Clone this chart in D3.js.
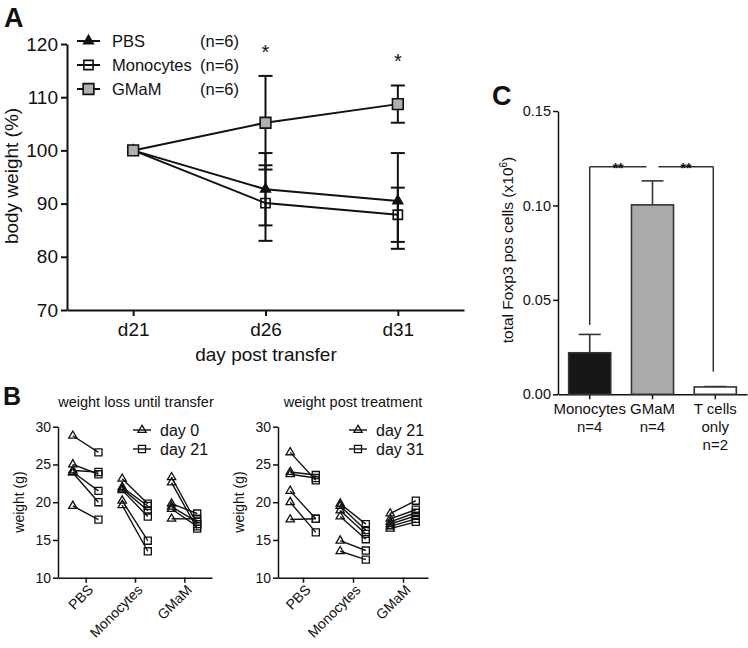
<!DOCTYPE html>
<html><head><meta charset="utf-8">
<script src="https://cdn.jsdelivr.net/npm/d3@7"></script>
<style>
body{margin:0;background:#fff;}
svg text{font-family:"Liberation Sans",Arial,Helvetica,sans-serif;fill:#111;}
</style></head><body>
<svg id="c" width="748" height="648"></svg>
<script>
// ---------- Panel A data ----------
const daysA = ["d21", "d26", "d31"];
const ticksA = [70, 80, 90, 100, 110, 120];
const seriesA = ["PBS", "Monocytes", "GMaM"];
const nA = ["(n=6)", "(n=6)", "(n=6)"];
const pbsMean = [100, 92.7, 90.5];
const pbsSD = [0, 6.8, 9.0];
const monoMean = [100, 90.1, 87.9];
const monoSD = [0, 7.1, 5.1];
const gmamMean = [100, 105.2, 108.7];
const gmamSD = [0, 8.8, 3.5];
const sigDaysA = ["d26", "d31"];

// ---------- Panel B data ----------
const groupsB = ["PBS", "Monocytes", "GMaM"];
const ticksB = [10, 15, 20, 25, 30];
const pbsDay0 = [28.8, 25.0, 24.2, 24.0, 23.9, 19.5];
const pbsDay21 = [26.6, 23.7, 24.0, 21.5, 20.0, 17.7];
const pbsDay31 = [22.9, 23.2, 23.6, 17.8, 16.0, 17.8];
const monoDay0 = [23.1, 22.0, 21.8, 21.6, 20.2, 19.6];
const monoDay21 = [19.8, 19.5, 18.9, 18.1, 14.9, 13.5];
const monoDay31 = [17.1, 16.3, 15.8, 15.1, 13.6, 12.4];
const gmamDay0 = [23.3, 22.6, 19.8, 19.4, 19.1, 17.8];
const gmamDay21 = [17.1, 16.5, 18.5, 17.4, 16.8, 17.8];
const gmamDay31 = [18.2, 17.4, 20.2, 18.6, 17.8, 19.0];

// ---------- Panel C data ----------
const catsC = ["Monocytes", "GMaM", "T cells only"];
const catLabelsC = [["Monocytes", "n=4"], ["GMaM", "n=4"], ["T cells", "only", "n=2"]];
const meanC = [0.022, 0.1003, 0.0039];
const semC = [0.0097, 0.0127, 0.0002];
const ticksC = [0, 0.05, 0.10, 0.15];
const colorsC = ["#161616", "#ababab", "#ffffff"];
const sigPairsC = [[0, 1, "**"], [1, 2, "**"]];
const bracketTopC = 0.1205;
const bracketLowC = [0.0367, 0.012];

const svg = d3.select("#c");
const INK = "#111";

function styleAxis(g, fs, sw) {
  g.attr("font-size", null).attr("font-family", null);
  g.selectAll("text").style("font-size", fs + "px").attr("fill", INK);
  g.selectAll("path,line").attr("stroke", INK).attr("stroke-width", sw);
}

// ================= Panel A =================
const xA = d3.scalePoint().domain(daysA).range([67, 464]).padding(0.5);
const yA = d3.scaleLinear().domain([70, 120]).range([310, 44]);
const gA = svg.append("g");

gA.append("text").attr("x", 4).attr("y", 27).text("A")
  .style("font-size", "27px").style("font-weight", "bold");

const axYA = gA.append("g").attr("transform", "translate(67,0)")
  .call(d3.axisLeft(yA).tickValues(ticksA).tickSize(6).tickPadding(3).tickSizeOuter(0));
styleAxis(axYA, 19, 2);
const axXA = gA.append("g").attr("transform", "translate(0,310)")
  .call(d3.axisBottom(xA).tickSize(6).tickPadding(7).tickSizeOuter(0));
styleAxis(axXA, 19, 2);

gA.append("text").attr("transform", "translate(17.5,176) rotate(-90)")
  .attr("text-anchor", "middle").style("font-size", "19px").text("body weight (%)");
gA.append("text").attr("x", 266).attr("y", 361)
  .attr("text-anchor", "middle").style("font-size", "19px").text("day post transfer");

const seriesData = [
  { name: "PBS", mean: pbsMean, sd: pbsSD, shape: "tri", fill: INK, size: 40 },
  { name: "Monocytes", mean: monoMean, sd: monoSD, shape: "sq", fill: "none", size: 85 },
  { name: "GMaM", mean: gmamMean, sd: gmamSD, shape: "sq", fill: "#b0b0b0", size: 115 }
];

// error bars
seriesData.forEach(s => {
  daysA.forEach((d, i) => {
    if (s.sd[i] <= 0) return;
    const x = xA(d), y1 = yA(s.mean[i] + s.sd[i]), y2 = yA(s.mean[i] - s.sd[i]);
    gA.append("line").attr("x1", x).attr("x2", x).attr("y1", y1).attr("y2", y2)
      .attr("stroke", INK).attr("stroke-width", 2);
    [y1, y2].forEach(y => gA.append("line").attr("x1", x - 7).attr("x2", x + 7)
      .attr("y1", y).attr("y2", y).attr("stroke", INK).attr("stroke-width", 2));
  });
});
// lines
const lineA = d3.line().x((d, i) => xA(daysA[i])).y(d => yA(d));
seriesData.forEach(s => {
  gA.append("path").attr("d", lineA(s.mean)).attr("fill", "none")
    .attr("stroke", INK).attr("stroke-width", 2);
});
function sym(shape, size) {
  return d3.symbol().type(shape === "tri" ? d3.symbolTriangle : d3.symbolSquare).size(size)();
}
// markers
seriesData.forEach(s => {
  daysA.forEach((d, i) => {
    gA.append("path").attr("d", sym(s.shape, s.size))
      .attr("transform", `translate(${xA(d)},${yA(s.mean[i])})`)
      .attr("fill", s.fill).attr("stroke", INK).attr("stroke-width", 1.6);
  });
});
// significance
sigDaysA.forEach(d => {
  const i = daysA.indexOf(d);
  const top = d3.min(seriesData, s => yA(s.mean[i] + s.sd[i]));
  gA.append("text").attr("x", xA(d)).attr("y", top - 17).attr("text-anchor", "middle")
    .style("font-size", "20px").text("*");
});
// legend
seriesData.forEach((s, k) => {
  const y = 41 + k * 24;
  gA.append("line").attr("x1", 77).attr("x2", 100).attr("y1", y).attr("y2", y)
    .attr("stroke", INK).attr("stroke-width", 2);
  gA.append("path").attr("d", sym(s.shape, s.size)).attr("transform", `translate(88.5,${y})`)
    .attr("fill", s.fill).attr("stroke", INK).attr("stroke-width", 1.6);
  gA.append("text").attr("x", 112).attr("y", y + 6).style("font-size", "16.5px").text(seriesA[k]);
  gA.append("text").attr("x", 200).attr("y", y + 6).style("font-size", "16.5px").text(nA[k]);
});

// ================= Panel B =================
svg.append("text").attr("x", 3).attr("y", 405).text("B")
  .style("font-size", "25px").style("font-weight", "bold");

function panelB(opt) {
  const g = svg.append("g");
  const y = d3.scaleLinear().domain([10, 30]).range([577.7, 426.7]);
  const x = d3.scalePoint().domain(groupsB).range(opt.xr).padding(opt.pad);
  const ay = g.append("g").attr("transform", `translate(${opt.xr[0]},0)`)
    .call(d3.axisLeft(y).tickValues(ticksB).tickSize(5).tickPadding(2).tickSizeOuter(0));
  styleAxis(ay, 14, 1.5);
  const ax = g.append("g").attr("transform", "translate(0,577.7)")
    .call(d3.axisBottom(x).tickSize(5).tickSizeOuter(0));
  styleAxis(ax, 14, 1.5);
  ax.selectAll("text").attr("text-anchor", "end").attr("dy", null).attr("y", null)
    .attr("transform", "translate(8,13) rotate(-45)");
  g.append("text").attr("transform", `translate(${opt.ylx},502) rotate(-90)`)
    .attr("text-anchor", "middle").style("font-size", "14px").text("weight (g)");
  g.append("text").attr("x", opt.tx).attr("y", 406.5).attr("text-anchor", "middle")
    .style("font-size", "14.5px").text(opt.title);
  const off = 12.8;
  opt.data.forEach((pair, gi) => {
    const cx = x(groupsB[gi]);
    const a = pair[0], b = pair[1];
    a.forEach((v, i) => {
      g.append("line").attr("x1", cx - off).attr("x2", cx + off)
        .attr("y1", y(v)).attr("y2", y(b[i])).attr("stroke", INK).attr("stroke-width", 1.4);
    });
    a.forEach(v => g.append("path").attr("d", sym("tri", 30))
      .attr("transform", `translate(${cx - off},${y(v)})`)
      .attr("fill", "none").attr("stroke", INK).attr("stroke-width", 1.3));
    b.forEach(v => g.append("path").attr("d", sym("sq", 50))
      .attr("transform", `translate(${cx + off},${y(v)})`)
      .attr("fill", "none").attr("stroke", INK).attr("stroke-width", 1.3));
  });
  opt.legend.forEach((lab, k) => {
    const ly = 430 + k * 19;
    g.append("line").attr("x1", opt.lx).attr("x2", opt.lx + 18).attr("y1", ly).attr("y2", ly)
      .attr("stroke", INK).attr("stroke-width", 1.4);
    g.append("path").attr("d", sym(k === 0 ? "tri" : "sq", k === 0 ? 30 : 50))
      .attr("transform", `translate(${opt.lx + 9},${ly})`)
      .attr("fill", "none").attr("stroke", INK).attr("stroke-width", 1.3);
    g.append("text").attr("x", opt.lx + 27).attr("y", ly + 6).style("font-size", "16px").text(lab);
  });
}
panelB({
  xr: [58, 212], pad: 0.56, ylx: 24, tx: 136, title: "weight loss until transfer",
  lx: 133, legend: ["day 0", "day 21"],
  data: [[pbsDay0, pbsDay21], [monoDay0, monoDay21], [gmamDay0, gmamDay21]]
});
panelB({
  xr: [278, 428], pad: 0.5, ylx: 243.5, tx: 353, title: "weight post treatment",
  lx: 349, legend: ["day 21", "day 31"],
  data: [[pbsDay21, pbsDay31], [monoDay21, monoDay31], [gmamDay21, gmamDay31]]
});

// ================= Panel C =================
const gC = svg.append("g");
gC.append("text").attr("x", 492).attr("y", 105).text("C")
  .style("font-size", "27px").style("font-weight", "bold");
const xC = d3.scaleBand().domain(catsC).range([558, 747]).paddingInner(0.33).paddingOuter(0.17);
const yC = d3.scaleLinear().domain([0, 0.15]).range([394.3, 111]);
const axYC = gC.append("g").attr("transform", "translate(558,0)")
  .call(d3.axisLeft(yC).tickValues(ticksC).tickFormat(d3.format(".2f")).tickSize(5).tickPadding(2).tickSizeOuter(0));
styleAxis(axYC, 14.5, 1.5);
const axXC = gC.append("g").attr("transform", "translate(0,394.3)")
  .call(d3.axisBottom(xC).tickSize(5).tickSizeOuter(0).tickFormat(""));
styleAxis(axXC, 15, 1.5);

catsC.forEach((c, i) => {
  const cx = xC(c) + xC.bandwidth() / 2;
  catLabelsC[i].forEach((t, k) => {
    gC.append("text").attr("x", cx).attr("y", 414 + k * 18).attr("text-anchor", "middle")
      .style("font-size", "15px").text(t);
  });
  // error bar (upper only)
  const top = yC(meanC[i] + semC[i]);
  gC.append("line").attr("x1", cx).attr("x2", cx).attr("y1", yC(meanC[i])).attr("y2", top)
    .attr("stroke", "#333").attr("stroke-width", 1.6);
  gC.append("line").attr("x1", cx - 11).attr("x2", cx + 11).attr("y1", top).attr("y2", top)
    .attr("stroke", "#333").attr("stroke-width", 1.6);
  gC.append("rect").attr("x", xC(c)).attr("width", xC.bandwidth())
    .attr("y", yC(meanC[i])).attr("height", yC(0) - yC(meanC[i]))
    .attr("fill", colorsC[i]).attr("stroke", "#333").attr("stroke-width", 1.6);
});
// brackets
sigPairsC.forEach(([a, b, lab], k) => {
  const ca = xC(catsC[a]) + xC.bandwidth() / 2, cb = xC(catsC[b]) + xC.bandwidth() / 2;
  const yt = yC(bracketTopC);
  let x1, x2, xv;
  if (k === 0) { x1 = ca; x2 = cb - 6; xv = ca; } else { x1 = ca + 6; x2 = cb - 2; xv = cb - 2; }
  gC.append("line").attr("x1", x1).attr("x2", x2).attr("y1", yt).attr("y2", yt)
    .attr("stroke", "#333").attr("stroke-width", 1.5);
  gC.append("line").attr("x1", xv).attr("x2", xv).attr("y1", yt).attr("y2", yC(bracketLowC[k]))
    .attr("stroke", "#333").attr("stroke-width", 1.5);
  gC.append("text").attr("x", (x1 + x2) / 2).attr("y", yt + 6).attr("text-anchor", "middle")
    .style("font-size", "14px").style("font-weight", "bold").text(lab);
});
gC.append("text").attr("transform", "translate(513,250) rotate(-90)").attr("text-anchor", "middle")
  .style("font-size", "15.5px")
  .call(t => {
    t.append("tspan").text("total Foxp3 pos cells (x10");
    t.append("tspan").attr("dy", -6).style("font-size", "10px").text("6");
    t.append("tspan").attr("dy", 6).text(")");
  });
</script>
</body></html>
